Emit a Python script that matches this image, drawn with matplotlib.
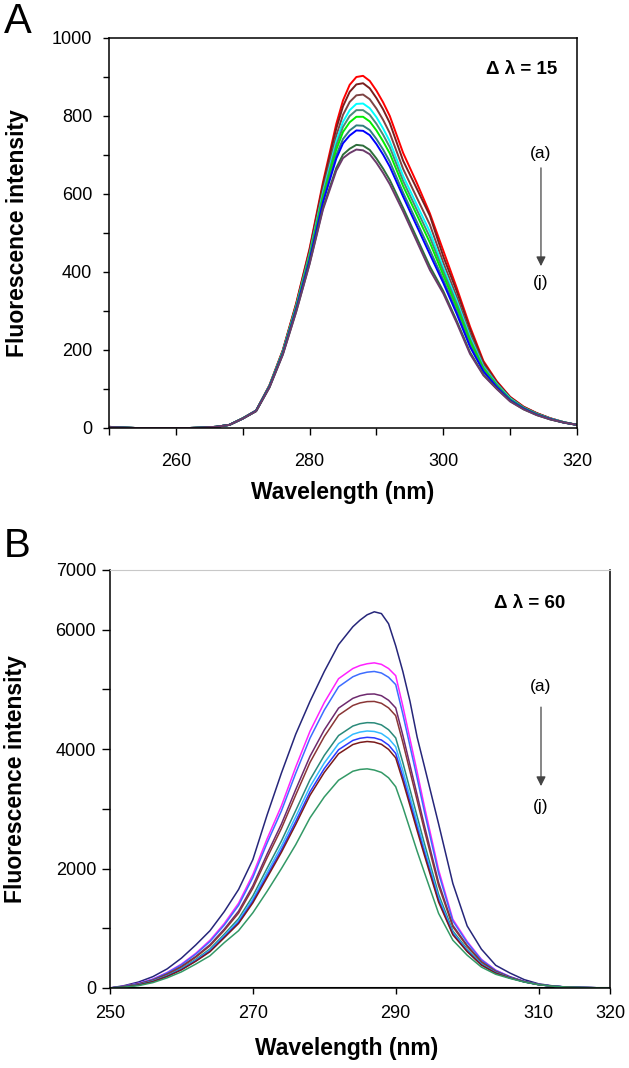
import matplotlib
matplotlib.use("Agg")
import matplotlib.pyplot as plt

plt.rcParams['font.family'] = ['Liberation Sans', 'DejaVu Sans']

# ---------------- data ----------------
# Panel A (delta lambda = 15): wavelengths and curves (a) .. (j)
wl_A = [250, 252, 254, 256, 258, 260, 262, 264, 266, 268, 270, 272, 274, 276, 278, 280, 282, 284,
        285, 286, 287, 288, 289, 290, 291, 292,
        294, 296, 298, 300, 302, 304, 306, 308, 310, 312, 314, 316, 318, 320]

A_a = [3, 1, 0, 0, 0, 0, 0, 1, 3, 8, 25, 45, 110, 200, 320, 460, 630, 780,
       840, 880, 900, 903, 890, 865, 835, 800,
       705, 630, 550, 455, 360, 260, 172, 120, 80, 55, 38, 25, 15, 8]
A_b = [3, 1, 0, 0, 0, 0, 0, 1, 3, 8, 25, 45, 109, 199, 318, 456, 623, 768,
       825, 862, 881, 884, 871, 846, 817, 782,
       685, 615, 544, 440, 351, 253, 168, 118, 79, 54, 38, 25, 15, 8]
A_c = [3, 1, 0, 0, 0, 0, 0, 1, 3, 8, 25, 44, 108, 197, 314, 450, 612, 750,
       803, 836, 853, 855, 843, 819, 790, 756,
       664, 592, 521, 424, 337, 242, 163, 115, 77, 53, 37, 24, 15, 8]
A_d = [3, 1, 0, 0, 0, 0, 0, 1, 3, 8, 25, 44, 108, 196, 312, 445, 604, 736,
       785, 815, 831, 832, 820, 797, 768, 735,
       646, 574, 503, 411, 327, 234, 158, 113, 76, 52, 36, 24, 15, 8]
A_e = [2, 1, 0, 0, 0, 0, 0, 1, 3, 8, 25, 44, 107, 194, 310, 442, 598, 725,
       772, 800, 815, 815, 803, 780, 752, 720,
       633, 561, 489, 402, 319, 228, 155, 111, 74, 52, 36, 24, 15, 8]
A_f = [2, 1, 0, 0, 0, 0, 0, 1, 3, 8, 24, 44, 107, 193, 308, 438, 592, 714,
       759, 784, 798, 798, 786, 763, 735, 704,
       620, 548, 475, 392, 310, 222, 152, 109, 73, 51, 35, 23, 14, 8]
A_g = [2, 1, 0, 0, 0, 0, 0, 1, 3, 8, 24, 44, 106, 192, 305, 433, 583, 700,
       741, 763, 776, 775, 764, 741, 714, 683,
       603, 530, 456, 380, 300, 213, 147, 107, 72, 50, 35, 23, 14, 8]
A_h = [2, 1, 0, 0, 0, 0, 0, 1, 3, 8, 24, 44, 106, 191, 304, 430, 578, 691,
       730, 750, 763, 762, 751, 728, 701, 670,
       593, 519, 445, 372, 293, 208, 145, 105, 71, 50, 34, 23, 14, 8]
A_i = [2, 1, 0, 0, 0, 0, 0, 1, 3, 8, 24, 43, 104, 189, 299, 422, 564, 667,
       701, 716, 726, 724, 713, 691, 665, 636,
       564, 489, 414, 351, 275, 194, 137, 101, 69, 48, 33, 22, 14, 8]
A_j = [2, 1, 0, 0, 0, 0, 0, 1, 3, 8, 24, 43, 104, 188, 298, 420, 560, 660,
       692, 705, 714, 712, 702, 680, 654, 625,
       555, 480, 405, 345, 270, 190, 135, 100, 68, 48, 33, 22, 14, 8]
A_colors = ['#ff0000', '#7a1e1e', '#7d4444', '#00ffff', '#4a8a7a', '#00ee00', '#2f7f7f', '#0000ff', '#2e6e3b', '#6b3b6b']

# Panel B (delta lambda = 60): wavelengths and curves (a) .. (j)
wl_B = [250, 252, 254, 256, 258, 260, 262, 264, 266, 268, 270, 272, 274, 276, 278, 280, 282,
        284, 285, 286, 287, 288, 289, 290, 291, 292, 293, 294,
        296, 298, 300, 302, 304, 306, 308, 310, 312, 314, 316, 318, 320]

B_a = [0, 40, 100, 190, 320, 500, 720, 960, 1280, 1650, 2150, 2900, 3600, 4250, 4800, 5300, 5750,
       6050, 6160, 6250, 6300, 6270, 6100, 5730, 5300, 4800, 4200, 3720,
       2750, 1750, 1040, 650, 380, 250, 140, 70, 35, 15, 8, 4, 0]
B_b = [0, 30, 80, 150, 260, 400, 580, 800, 1080, 1420, 1900, 2500, 3050, 3700, 4300, 4780, 5180,
       5350, 5400, 5430, 5445, 5420, 5350, 5230, 4720, 4170, 3620, 3050,
       1980, 1150, 780, 480, 300, 190, 110, 60, 30, 15, 8, 4, 0]
B_c = [0, 29, 77, 145, 253, 390, 566, 779, 1054, 1383, 1849, 2430, 2966, 3596, 4184, 4654, 5044,
       5212, 5261, 5289, 5301, 5275, 5204, 5081, 4585, 4049, 3514, 2961,
       1922, 1122, 762, 470, 294, 188, 109, 60, 30, 15, 8, 4, 0]
B_d = [0, 26, 68, 133, 234, 362, 528, 725, 987, 1287, 1714, 2245, 2746, 3323, 3880, 4322, 4687,
       4851, 4895, 4920, 4924, 4895, 4819, 4691, 4230, 3732, 3234, 2728,
       1768, 1049, 713, 442, 280, 181, 107, 59, 30, 15, 8, 4, 0]
B_e = [0, 25, 66, 128, 228, 353, 515, 706, 965, 1254, 1670, 2183, 2672, 3232, 3778, 4211, 4568,
       4731, 4774, 4796, 4799, 4768, 4691, 4560, 4112, 3626, 3141, 2650,
       1717, 1024, 697, 433, 275, 179, 106, 58, 30, 15, 8, 4, 0]
B_f = [0, 22, 58, 116, 210, 327, 479, 654, 901, 1162, 1542, 2007, 2462, 2972, 3488, 3895, 4228,
       4387, 4426, 4444, 4440, 4406, 4325, 4188, 3774, 3324, 2875, 2428,
       1571, 954, 651, 407, 261, 173, 104, 57, 30, 15, 8, 4, 0]
B_g = [0, 20, 54, 112, 202, 317, 465, 634, 875, 1126, 1490, 1937, 2378, 2868, 3372, 3769, 4092,
       4249, 4286, 4304, 4296, 4262, 4179, 4040, 3638, 3204, 2769, 2340,
       1513, 926, 633, 397, 255, 171, 104, 57, 30, 15, 8, 4, 0]
B_h = [0, 20, 52, 108, 197, 309, 454, 618, 856, 1098, 1452, 1884, 2315, 2790, 3285, 3674, 3990,
       4146, 4182, 4198, 4189, 4153, 4069, 3928, 3537, 3113, 2689, 2273,
       1469, 905, 619, 389, 251, 169, 103, 57, 30, 15, 8, 4, 0]
B_i = [0, 19, 50, 106, 193, 304, 447, 608, 843, 1080, 1426, 1849, 2273, 2738, 3227, 3611, 3922,
       4077, 4112, 4128, 4117, 4081, 3996, 3854, 3469, 3053, 2636, 2229,
       1440, 891, 610, 384, 248, 168, 103, 56, 30, 15, 8, 4, 0]
B_j = [0, 15, 40, 90, 170, 270, 400, 540, 760, 960, 1260, 1620, 2000, 2400, 2850, 3200, 3480,
       3630, 3660, 3670, 3650, 3610, 3520, 3370, 3030, 2660, 2290, 1940,
       1250, 800, 550, 350, 230, 160, 100, 55, 30, 15, 8, 4, 0]
B_blank = [0] * 41
B_colors = ['#26267a', '#ff22ff', '#3d6dff', '#6e2a6e', '#8a3636', '#2a8a7a', '#33bbff', '#2a3aff', '#7a1a1a', '#339966']

A_xticks = [250, 260, 270, 280, 290, 300, 310, 320]
A_xlabels = ['', '260', '', '280', '', '300', '', '320']
A_yticks = [0, 100, 200, 300, 400, 500, 600, 700, 800, 900, 1000]
A_ylabels = ['0', '', '200', '', '400', '', '600', '', '800', '', '1000']
B_xticks = [250, 270, 290, 310, 320]
B_xlabels = ['250', '270', '290', '310', '320']
B_yticks = [0, 1000, 2000, 3000, 4000, 5000, 6000, 7000]
B_ylabels = ['0', '', '2000', '', '4000', '', '6000', '7000']

# ---------------- figure ----------------
fig = plt.figure(figsize=(6.29, 10.68), dpi=100)
W, H = 629, 1068

def px_axes(l, t, r, b):
    return fig.add_axes([l / W, 1 - b / H, (r - l) / W, (b - t) / H])

axA = px_axes(109, 38, 577, 428)
axB = px_axes(110, 570, 610, 988)

for ys, c in zip([A_a, A_b, A_c, A_d, A_e, A_f, A_g, A_h, A_i, A_j], A_colors):
    axA.plot(wl_A, ys, color=c, lw=1.4)

axB.plot(wl_B, B_blank, color='black', lw=1.5)
for ys, c in zip([B_a, B_b, B_c, B_d, B_e, B_f, B_g, B_h, B_i, B_j], B_colors):
    axB.plot(wl_B, ys, color=c, lw=1.1)

axA.set_xlim(250, 320)
axA.set_ylim(0, 1000)
axA.set_xticks(A_xticks)
axA.set_xticklabels(A_xlabels)
axA.set_yticks(A_yticks)
axA.set_yticklabels(A_ylabels)
axA.tick_params(axis='x', direction='out', length=5, width=1, pad=13, labelsize=13)
axA.tick_params(axis='y', direction='out', length=4, width=1, pad=8, labelsize=13)

axB.set_xlim(250, 320)
axB.set_ylim(0, 7000)
axB.set_xticks(B_xticks)
axB.set_xticklabels(B_xlabels)
axB.set_yticks(B_yticks)
axB.set_yticklabels(B_ylabels)
axB.tick_params(axis='x', direction='out', length=4, width=1, pad=8, labelsize=13)
axB.tick_params(axis='y', direction='out', length=6, width=1, pad=4, labelsize=13)

for ax in (axA, axB):
    for s in ax.spines.values():
        s.set_linewidth(1.1)
    ax.set_ylabel('Fluorescence intensity', fontsize=16.5, fontweight='bold')

axA.set_xlabel('Wavelength (nm)', fontsize=16.5, fontweight='bold', labelpad=8)
axB.set_xlabel('Wavelength (nm)', fontsize=16.5, fontweight='bold', labelpad=11)
axB.xaxis.set_label_coords(0.474, -0.117)
axB.xaxis.label.set_va('top')
axB.spines['top'].set_color('#c8c8c8')
axB.spines['top'].set_linewidth(0.8)

axA.yaxis.set_label_coords(-0.17, 0.5)
axB.yaxis.set_label_coords(-0.166, 0.5)

# annotations
axA.text(0.882, 0.918, 'Δ λ = 15', transform=axA.transAxes, ha='center', va='center',
         fontsize=13.5, fontweight='bold')
axA.text(0.923, 0.705, '(a)', transform=axA.transAxes, ha='center', va='center', fontsize=12.5)
axA.text(0.923, 0.372, '(j)', transform=axA.transAxes, ha='center', va='center', fontsize=12.5)
axA.annotate('', xy=(0.923, 0.415), xytext=(0.923, 0.667), xycoords='axes fraction',
             arrowprops=dict(arrowstyle='-|>', color='#444444', lw=0.9, mutation_scale=14,
                             shrinkA=0, shrinkB=0))

axB.text(0.84, 0.919, 'Δ λ = 60', transform=axB.transAxes, ha='center', va='center',
         fontsize=13.5, fontweight='bold')
axB.text(0.862, 0.722, '(a)', transform=axB.transAxes, ha='center', va='center', fontsize=12.5)
axB.text(0.862, 0.435, '(j)', transform=axB.transAxes, ha='center', va='center', fontsize=12.5)
axB.annotate('', xy=(0.862, 0.483), xytext=(0.862, 0.672), xycoords='axes fraction',
             arrowprops=dict(arrowstyle='-|>', color='#444444', lw=0.9, mutation_scale=14,
                             shrinkA=0, shrinkB=0))

fig.text(4 / W, 1 - 2 / H, 'A', fontsize=30, ha='left', va='top')
fig.text(4 / W, 1 - 527 / H, 'B', fontsize=29, ha='left', va='top')

fig.savefig('out.png', dpi=100)
